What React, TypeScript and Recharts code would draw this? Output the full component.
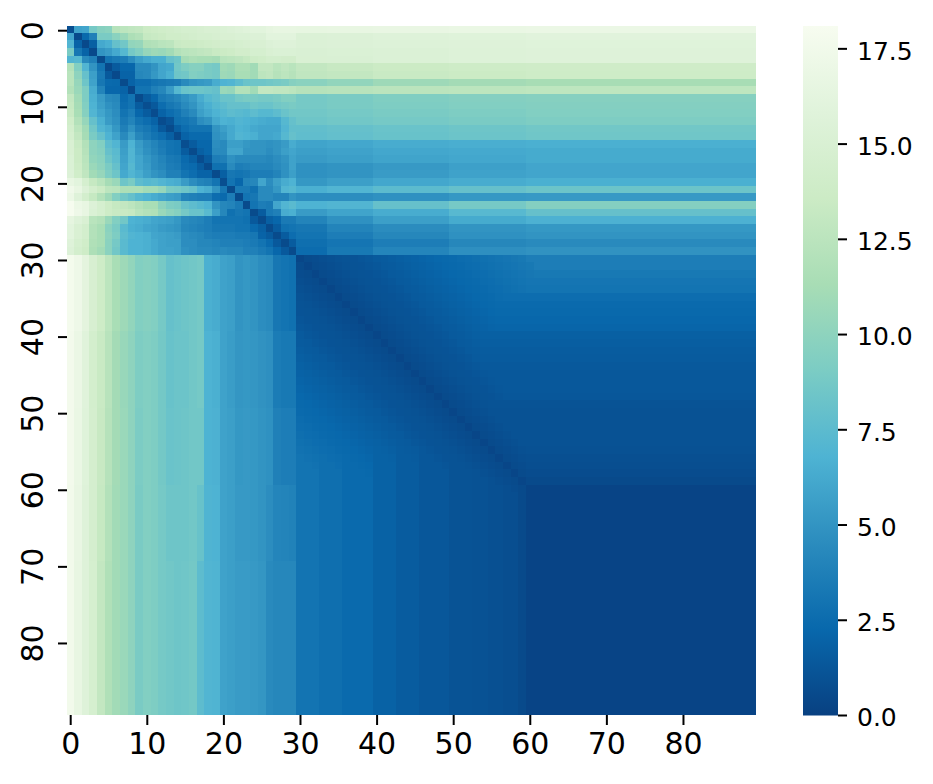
import React from 'react';
import { Bar, BarChart, Scatter, ScatterChart, XAxis, YAxis } from 'recharts';

const axisTicks = [0, 10, 20, 30, 40, 50, 60, 70, 80];
const scaleTicks = [0, 2.5, 5, 7.5, 10, 12.5, 15, 17.5];
const scaleMax = 18.1;

// GnBu_r stops, dark to light
const rampStops = ['#084081', '#0868ac', '#2b8cbe', '#4eb3d3', '#7bccc4', '#a8ddb5', '#ccebc5', '#e0f3db', '#f7fcf0'];

// rows 0-29, columns 0-29, read cell by cell
const topBlock = [
  [0.8,5.8,6,8.8,9.6, 9.8,12.2,12.6,12.8,13, 13.6,13.8,14,14.2,14.4, 14.6,14.6,14.8,15,15, 15.2,15.4,15.6,15.8,16, 16,16.4,16.6,16.6,16.6],
  [6,0.5,2.3,3.8,9, 9,9.8,10.6,11.6,12, 13.2,13.4,13.6,14,14, 14.2,14.4,14.6,14.6,14.8, 15,15,15.2,15.2,15.4, 15.4,16,16,16,16],
  [7,2,0.5,1.8,6.2, 6.6,8,8.6,10.2,10.4, 11.8,12,12.4,12.6,13.4, 13.6,13.6,13.8,14,14.2, 14.4,14.4,14.6,14.8,15, 15,15.4,15.6,15.6,15.6],
  [9,3.2,2,0.5,5, 5.4,6.2,7.2,8.8,9.4, 10.4,10.8,10.6,11,12, 12.4,12.6,12.8,13,13.4, 13.6,13.8,14.2,14.2,14.6, 14.6,15,15.2,15.2,15.2],
  [7,7.2,4.4,3.8,0.6, 3,3.4,3.6,4.6,5.6, 6.2,6.6,6.6,8,8.4, 11.2,11.6,11.4,11.4,11.2, 12.4,12.6,12.8,13.2,13.8, 14,14.4,14.4,14.2,14.2],
  [12,9.4,7,5,3, 0.5,1.5,2.2,2.2,4.4, 4.4,5,6,6.2,8.6, 9.2,9.6,9.6,9,8.8, 11,10.8,11.6,11.6,11, 13,13,12.4,12.8,12.4],
  [12.4,10,8,5.6,3.4, 1.4,0.5,2,2,4.2, 4.4,5.2,6,6.6,8.4, 8.6,9.4,9.2,9,8.8, 10.8,10.6,11.4,11.4,11, 12.6,12.8,12.2,12.6,12.2],
  [12.4,10.4,8.4,5.8,3.2, 2.4,2.3,0.6,2,2.6, 2.6,3,3.2,3.4,3.6, 4.4,5,5.2,5.4,6.4, 6.8,7,7.6,8.2,8.4, 8.4,8.6,8.8,9,9.6],
  [12,10.6,9.2,6.4,4, 2.2,2.2,2,0.5,3, 3,3.8,4.2,5.4,7.2, 8.2,8.4,8.4,8.2,8, 10.6,10.4,12,12,11, 13,13,12.8,12.8,12.6],
  [13,11,9.2,6.6,5.4, 4.4,4.2,2.4,3,0.6, 1.6,2.2,3.4,3.8,4.2, 4.8,5.4,6.4,7.2,7.6, 8.2,8.2,8.8,9,9, 8.8,8.8,9,9.4,9.4],
  [13.2,11.2,9.4,6.8,5.6, 4.8,4.4,2.6,3,1.6, 0.8,1.4,2.6,3.2,3.6, 4.4,5,6,6.6,7.2, 7.6,8,8,8,8.4, 8.2,8.2,8.6,8.8,9],
  [13.4,11.4,9.6,7,6, 5.2,4.6,3,3.6,2.2, 1.6,0.7,2,2.6,3, 3.8,4.4,5.6,6.2,6.8, 7.2,7.6,7.4,7.2,7.6, 7.2,7.2,7.6,8.2,8.6],
  [14,12,10.4,8,6.6, 5.4,4.8,3.4,4,3, 2.6,2,0.7,1.2,2.8, 3,3.4,4.6,5,6.2, 6.8,6.6,7,6.8,6.6, 6.4,6.2,6.2,7.2,8],
  [14.4,12.6,11,8.6,7, 6.4,5.2,3.8,4.8,3.6, 3.2,2.6,1.4,0.6,1.8, 2.6,3,3,3,5, 5.6,6.2,6.8,6.6,6.2, 6,6,6,7,7.8],
  [14.6,13,11.2,9,8, 6.8,5.8,4.4,5.6,4.2, 3.6,3,2.6,1.8,0.6, 2,2.4,2.4,2.4,4.8, 5.2,6.2,7,6.8,6.6, 6,6,6.2,7.2,8],
  [15,13.4,12,10,9.4, 7.6,7,5.4,6.8,5.4, 4.6,4,3.4,3,2.8, 0.8,1.6,2.2,2.2,4.6, 4.4,5.6,5.6,5.2,5, 5,4.8,5,5.4,6.4],
  [15,13.6,12.2,10,9.6, 8,7.4,5.6,7,5.6, 4.8,4.2,3.6,3,2.8, 1.6,0.6,1.8,2.2,4.4, 4.4,6,6,5,5, 5,4.6,5,5.6,6],
  [15.2,13.6,12.4,10.2,9.8, 8.4,7.6,5.8,7,6, 5.2,4.6,4,3.4,3.2, 2.4,1.8,0.7,1.6,3.6, 3.8,4.8,4.4,4.4,4.4, 4.4,4.2,4.6,5,5.8],
  [15.2,13.8,12.6,10.6,10, 9,8,6,7.2,6, 5.4,4.6,4.2,3.6,3.4, 2.6,2.4,1.6,0.6,2.8, 2.8,4.4,3.6,3.8,4, 4,4,4.4,4.8,5.8],
  [15.4,14,12.8,11,10.4, 9.2,8.4,6.2,7,6.4, 5.6,5,4.6,3.8,3.8, 3,2.6,2,2,0.6, 1.8,3.2,3,3.2,3.6, 3.6,3.6,4,4.8,5.6],
  [16.6,16,14.6,13.2,12.4, 11.2,10.6,8.4,9,7.6, 7.2,7.4,7,6.6,6.4, 5.4,4.6,4,3.8,3, 0.8,3,2.2,4,4.2, 6,4.6,5.6,6.4,6.8],
  [17.4,16.6,15.4,14.4,13.6, 12.6,12.4,11.6,11.6,11.6, 11,11,10.4,9,8.8, 8.4,8,6.8,6.4,5, 3.2,0.6,3.4,3.4,2.8, 4.4,4.4,5.2,7,7.2],
  [17,15.6,14.4,13.2,12, 10.8,9.4,8.6,8,7.2, 6.8,6.4,6,5.6,5.4, 4,3.8,3.6,3.6,2.6, 2.4,3.6,0.6,3,3.2, 4.4,4.4,4,4,5],
  [18,17,16.6,15.4,14.6, 13.8,13.2,13,12.6,12, 11.4,11.4,10,9.2,9, 8,7.6,7.2,6.8,5, 4.2,4,3.4,0.6,3, 3.6,3.4,6,7,7.4],
  [18,17.2,16.6,15.2,14.6, 13.8,13.4,13.4,13.2,12.4, 12,11.8,10.6,10,9.6, 8.8,8.2,8.2,7.4,5.6, 4.2,2.8,3.2,3,0.6, 1.6,3.4,3.8,6.4,6.6],
  [16.4,15.6,15,12.4,12, 10.6,9.4,8.6,6.8,6.6, 6.4,6,5.8,5.6,5.2, 4.4,4.2,4,3.6,3, 3,3,3,2.8,1.4, 0.6,1.8,2.2,3.4,3.4],
  [16,15,14.4,12,11.4, 9.8,9,7.4,6.6,6.4, 6,5.8,5.4,5.2,5, 4.2,4,3.8,3.6,3.2, 3.2,3.2,3,3,2.4, 1.8,0.6,1.6,2.8,3],
  [16,15,14.4,12,11.4, 10,9.2,7.6,7,6.8, 6.6,6,5.8,5.6,5.4, 4.6,4.4,4.2,3.8,3.6, 3.6,3.6,3.4,3.4,3.2, 2,1.5,0.6,1.6,2.6],
  [15.6,14.6,14,11.8,11.4, 9.8,8.8,7.4,6.8,6.8, 6.6,6.2,5.8,5.6,5.6, 4.6,4.6,4.2,4.2,4, 3.8,3.8,3.8,3.6,3.4, 3,2.4,1.4,0.6,1.6],
  [15.4,14.4,13.8,11.6,11, 9.8,8.6,7.4,6.8,6.8, 6.6,6.2,5.8,5.8,5.6, 4.8,4.6,4.4,4.4,4.2, 4.4,4.2,4.2,3.8,3.8, 3.4,3,2.2,1.4,0.6],
];

// rows 0-29 to the right of the block, one list per group of columns
const rightBandStarts = [30, 34, 40, 50, 60];
const right30 = [16.5,15.3,15.3,15.1,15,13,12.8,9.8,12.2,8.8,8.8,8.6,8.4,7.8,7.7,5.9,5.6,5.4,4.8,4.8,5.2,6.6,4.6,6.8,5.4,4,3.2,3,2.7,2.5];
const right34 = [16.6,15.4,15.4,15.2,15.1,13.3,13,10.2,12.3,9,9,8.8,8.6,8,7.9,6.1,5.8,5.6,5,5,5.6,7,4.6,7,5.9,4.8,4,3.6,3.1,3.3];
const right40 = [16.7,15.6,15.5,15.3,15.3,13.6,13.4,10.8,12.5,9.3,9.2,9,8.8,8.2,8.1,6.4,6.1,5.9,5.3,5.4,6.1,7.5,4.8,8,6.4,5.6,4.5,4.2,3.6,4.1];
const right50 = [16.8,15.7,15.6,15.5,15.5,13.8,13.6,11.1,12.6,9.5,9.4,9.2,9,8.4,8.3,6.5,6.2,6.1,5.7,5.8,6.4,8,5.2,8.8,7.3,6.3,5,4.8,4.2,4.7];
const right60 = [16.9,15.9,15.7,15.6,15.6,13.9,13.8,11.3,12.7,9.6,9.5,9.4,9.2,8.6,8.5,6.6,6.3,6.3,6,6,6.6,8.3,5.3,9.5,8,6.7,5.2,5,4.4,4.9];
const rightBands = [right30, right34, right40, right50, right60];

// columns 0-29 below the block, one list per group of rows
const belowBandStarts = [30, 40, 50, 60, 70];
const below30 = [17.8,17.2,16.2,14.8,13.8,12.6,11.4,10.8,10.2,9.4,9.6,9.4,8.8,8,8.2,8.4,8.6,8.8,6.6,6.4,5.8,5.6,5,5.2,5,4.6,4.4,3.2,3,2.8];
const below40 = [17.7,16.9,15.8,14.4,13.4,12.3,11.1,10.5,10,9.2,9.4,9.2,8.7,8.1,8.3,8.3,8.6,8.8,6.8,6.6,5.8,5.5,5.1,5.2,5.1,4.9,4.7,3.5,3.3,3.3];
const below50 = [17.7,16.8,15.7,14.5,13.3,12.2,11.1,10.6,10,9.1,9.4,9.2,8.7,8.2,8.3,8.4,8.6,8.6,6.8,6.7,5.8,5.6,5.2,5.3,5.2,5,4.8,3.8,3.6,3.6];
const below60 = [17.6,16.7,15.6,14.5,13.2,12,11,10.6,10,9,9.4,9.2,8.8,8.4,8.4,8.4,8.6,8.1,6.9,6.8,5.8,5.6,5.3,5.3,5.2,5,4.6,4.1,4,3.9];
const below70 = [17.6,16.6,15.6,14.6,13,11.8,11,10.6,10,9,9.4,9.2,8.8,8.6,8.4,8.5,8.7,7.6,7,6.9,5.8,5.6,5.4,5.4,5.3,5.1,4.4,4.2,4.2,4.2];
const belowBands = [below30, below40, below50, below60, below70];

// rows 30-59 above the diagonal, columns 30-59 below it
const rowLevels = [3.6,3.6,3.3,3.1,3,2.6,2.4,2.3,2.2,2.1,1.8,1.7,1.6,1.5,1.4,1.35,1.35,1.35,1.3,1.05,1,1,1,1,1,0.95,0.85,0.8,0.7,0.55];
const colLevels = [3,3,3,2.7,2.7,2.7,2.4,2.4,2.4,2.4,1.9,1.9,1.9,1.6,1.6,1.6,1.3,1.3,1.3,1.3,1.05,1.05,1.05,1,1,0.9,0.9,0.8,0.8,0.55];
// darkest value seen at each distance from the diagonal, past column 30
const valleyByGap = [0.35,0.6,0.7,0.8,0.9,1,1.05,1.1,1.2,1.3,1.45,1.55,1.65,1.75,1.85,1.95,2.05,2.15,2.25,2.3,2.4,2.5,2.6,2.7,2.8,2.9,3,3.1,3.2,3.3];
const cornerLevel = 0.25;

const PLOT_W = 689.7;
const PLOT_H = 689;
const X_DOMAIN: [number, number] = [-0.483, 89.56];
const Y_DOMAIN: [number, number] = [-0.614, 89.34];
const CELL_W = PLOT_W / (X_DOMAIN[1] - X_DOMAIN[0]);
const CELL_H = PLOT_H / (Y_DOMAIN[1] - Y_DOMAIN[0]);
const FONT = '"DejaVu Sans", sans-serif';

const bandFor = (starts: number[], bands: number[][], along: number) => {
  let found = bands[0];
  starts.forEach((start, i) => {
    if (along >= start) found = bands[i];
  });
  return found;
};

const valueAt = (row: number, col: number) => {
  if (row < 30 && col < 30) return topBlock[row][col];
  if (row < 30) return bandFor(rightBandStarts, rightBands, col)[row];
  if (col < 30) return bandFor(belowBandStarts, belowBands, row)[col];
  if (row >= 60 && col >= 60) return cornerLevel;
  const level = row < col ? rowLevels[row - 30] : colLevels[col - 30];
  const valley = valleyByGap[Math.abs(row - col)];
  if (level === undefined) return cornerLevel;
  return valley === undefined ? level : Math.min(level, valley);
};

const colourFor = (value: number) => {
  const pos = (Math.min(value, scaleMax) / scaleMax) * (rampStops.length - 1);
  const low = Math.min(Math.floor(pos), rampStops.length - 2);
  const t = pos - low;
  const channel = (hex: string, at: number) => parseInt(hex.slice(at, at + 2), 16);
  const mix = (at: number) => Math.round(channel(rampStops[low], at) * (1 - t) + channel(rampStops[low + 1], at) * t);
  return `rgb(${mix(1)},${mix(3)},${mix(5)})`;
};

const cells: { x: number; y: number; value: number }[] = [];
for (let row = 0; row < 90; row++) {
  for (let col = 0; col < 90; col++) {
    cells.push({ x: col - 0.05, y: row - 0.25, value: valueAt(row, col) });
  }
}

const HeatCell = (props: any) => {
  const { cx, cy, payload } = props;
  return (
    <rect
      x={cx - CELL_W / 2}
      y={cy - CELL_H / 2}
      width={CELL_W + 0.5}
      height={CELL_H + 0.5}
      shapeRendering="crispEdges"
      fill={colourFor(payload.value)}
    />
  );
};

const RotatedTick = (props: any) => {
  const { y, payload } = props;
  return (
    <text
      transform={`translate(43,${y}) rotate(-90)`}
      textAnchor="middle"
      fontSize={30}
      fontFamily={FONT}
      fill="#000"
    >
      {payload.value}
    </text>
  );
};

const scaleData = [{ name: 'scale', value: scaleMax }];

export default function App() {
  return (
    <div style={{ position: 'absolute', left: 0, top: 0, width: 933, height: 784, background: '#fff' }}>
      <div style={{ position: 'absolute', left: 0, top: 0 }}>
        <ScatterChart width={933} height={784} margin={{ top: 26, right: 176.3, bottom: 0, left: 0 }}>
          <XAxis
            type="number"
            dataKey="x"
            domain={X_DOMAIN}
            allowDataOverflow
            ticks={axisTicks}
            interval={0}
            height={69}
            axisLine={false}
            tickSize={10}
            tickMargin={8}
            tickLine={{ stroke: '#000', strokeWidth: 2 }}
            tick={{ fontSize: 30, fontFamily: FONT, fill: '#000' }}
          />
          <YAxis
            type="number"
            dataKey="y"
            reversed
            domain={Y_DOMAIN}
            allowDataOverflow
            ticks={axisTicks}
            interval={0}
            width={67}
            axisLine={false}
            tickSize={9}
            tickLine={{ stroke: '#000', strokeWidth: 2 }}
            tick={<RotatedTick />}
          />
          <Scatter data={cells} shape={<HeatCell />} isAnimationActive={false} />
        </ScatterChart>
      </div>
      <div style={{ position: 'absolute', left: 803, top: 0 }}>
        <BarChart
          width={130}
          height={784}
          data={scaleData}
          barCategoryGap={0}
          margin={{ top: 26, right: 0, bottom: 68.5, left: 0 }}
        >
          <defs>
            <linearGradient id="ramp" x1="0" y1="1" x2="0" y2="0">
              {rampStops.map((c, i) => (
                <stop key={c} offset={i / (rampStops.length - 1)} stopColor={c} />
              ))}
            </linearGradient>
          </defs>
          <XAxis dataKey="name" hide />
          <YAxis
            orientation="right"
            type="number"
            domain={[0, scaleMax]}
            ticks={scaleTicks}
            interval={0}
            width={95}
            axisLine={false}
            tickSize={9}
            tickMargin={10}
            tickLine={{ stroke: '#000', strokeWidth: 2 }}
            tick={{ fontSize: 25, fontFamily: FONT, fill: '#000', dy: 2 }}
            tickFormatter={(v: number) => v.toFixed(1)}
          />
          <Bar dataKey="value" fill="url(#ramp)" isAnimationActive={false} />
        </BarChart>
      </div>
    </div>
  );
}
